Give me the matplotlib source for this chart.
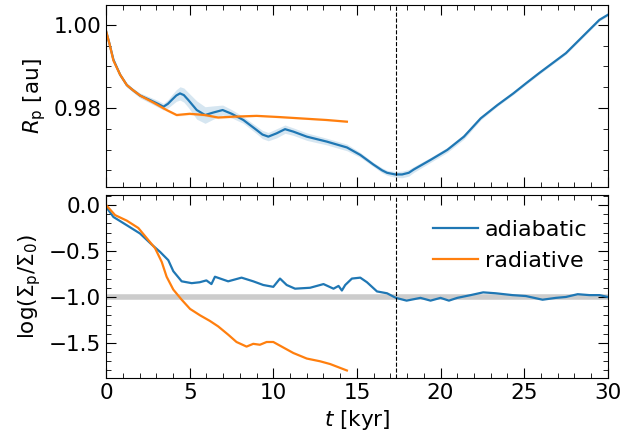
import matplotlib.pyplot as plt
from matplotlib.ticker import MultipleLocator

# planet radius, adiabatic run
t_adi_r = [0.0, 0.2, 0.44, 0.84, 1.24, 1.6, 2.03, 2.63, 3.1, 3.43, 3.7, 3.92, 4.2, 4.42,
           4.65, 4.92, 5.42, 5.92, 6.41, 6.97, 7.51, 8.21, 9.0, 9.35, 9.7, 10.2, 10.7,
           11.2, 12.0, 13.2, 14.4, 15.2, 15.98, 16.5, 16.8, 17.3, 17.7, 18.1, 18.4,
           19.4, 20.4, 21.4, 22.4, 23.4, 24.35, 25.1, 25.9, 26.7, 27.5, 28.3, 29.1,
           29.5, 30.0]
r_adi = [0.9985, 0.9955, 0.9916, 0.988, 0.9855, 0.9843, 0.983, 0.9819, 0.981, 0.9803,
         0.981, 0.9819, 0.983, 0.9835, 0.9831, 0.9819, 0.9795, 0.9783, 0.9789, 0.9795,
         0.9786, 0.9771, 0.9747, 0.9736, 0.9731, 0.9739, 0.9749, 0.9743, 0.9731,
         0.9719, 0.9705, 0.9687, 0.9664, 0.965, 0.9644, 0.964, 0.964, 0.9644, 0.9652,
         0.9675, 0.9699, 0.9731, 0.9775, 0.9807, 0.9835, 0.9859, 0.9884, 0.9908,
         0.9932, 0.9964, 0.9996, 1.0012, 1.0024]
r_adi_spread = [0.0003, 0.0003, 0.0004, 0.0004, 0.0005, 0.0005, 0.0006, 0.0007, 0.0008,
                0.0008, 0.0010, 0.0012, 0.0014, 0.0016, 0.0017, 0.0018, 0.0022, 0.0020,
                0.0016, 0.0012, 0.0010, 0.0008, 0.0009, 0.0010, 0.0010, 0.0011, 0.0010,
                0.0009, 0.0009, 0.0008, 0.0008, 0.0006, 0.0005, 0.0006, 0.0006, 0.0007,
                0.0008, 0.0008, 0.0007, 0.0006, 0.0006, 0.0006, 0.0004, 0.0003, 0.0003,
                0.0003, 0.0003, 0.0003, 0.0003, 0.0003, 0.0003, 0.0003, 0.0003]

# planet radius, radiative run
t_rad_r = [0.0, 0.2, 0.44, 0.84, 1.24, 1.6, 2.03, 2.83, 3.62, 4.22, 5.0, 5.9, 6.7, 7.6,
           9.0, 10.4, 11.6, 13.2, 14.4]
r_rad = [0.9985, 0.9955, 0.9914, 0.988, 0.9855, 0.9843, 0.983, 0.9813, 0.9795, 0.9783,
         0.9786, 0.9783, 0.9777, 0.9779, 0.9781, 0.9778, 0.9775, 0.9771, 0.9767]
r_rad_spread = [0.0002, 0.0002, 0.0003, 0.0004, 0.0004, 0.0004, 0.0004, 0.0004, 0.0003,
                0.0003, 0.0003, 0.0003, 0.0003, 0.0003, 0.0002, 0.0002, 0.0002, 0.0002,
                0.0002]

# gap depth
t_adi_s = [0.0, 0.44, 1.24, 2.03, 2.73, 3.23, 3.72, 4.02, 4.52, 5.12, 5.6, 6.0, 6.3,
           6.51, 7.3, 8.1, 8.8, 9.4, 10.0, 10.4, 10.8, 11.3, 12.2, 13.0, 13.6, 13.9,
           14.1, 14.3, 14.7, 15.2, 15.6, 16.2, 16.8, 17.33, 17.97, 18.8, 19.4, 20.0,
           20.5, 21.0, 21.8, 22.55, 23.3, 24.3, 25.1, 26.1, 26.9, 27.5, 28.2, 28.9,
           29.5, 30.0]
s_adi = [-0.02, -0.13, -0.22, -0.31, -0.43, -0.51, -0.6, -0.72, -0.83, -0.85, -0.84,
         -0.82, -0.86, -0.78, -0.83, -0.79, -0.83, -0.87, -0.89, -0.80, -0.87, -0.91,
         -0.90, -0.86, -0.91, -0.88, -0.93, -0.87, -0.80, -0.79, -0.84, -0.94, -0.96,
         -1.01, -1.04, -1.01, -1.04, -1.01, -1.04, -1.01, -0.98, -0.95, -0.96, -0.98,
         -0.99, -1.03, -1.01, -1.0, -0.97, -0.98, -0.98, -1.0]

t_rad_s = [0.0, 0.54, 1.24, 1.93, 2.43, 2.93, 3.33, 3.62, 4.02, 4.52, 5.02, 5.62, 6.2,
           6.7, 7.3, 7.8, 8.4, 8.8, 9.2, 9.6, 10.0, 10.5, 11.2, 12.0, 12.8, 13.4, 14.4]
s_rad = [0.0, -0.11, -0.17, -0.25, -0.36, -0.47, -0.62, -0.78, -0.92, -1.03, -1.13,
         -1.2, -1.26, -1.32, -1.41, -1.49, -1.54, -1.51, -1.52, -1.49, -1.49, -1.54,
         -1.61, -1.67, -1.70, -1.73, -1.80]

t_mark = 17.33

plt.rcParams['font.size'] = 15.5

fig = plt.figure(figsize=(6.24, 4.44), dpi=100)
ax1 = fig.add_axes([0.170, 0.579, 0.804, 0.410])
ax2 = fig.add_axes([0.170, 0.149, 0.804, 0.412], sharex=ax1)

lo = [r - w for r, w in zip(r_adi, r_adi_spread)]
hi = [r + w for r, w in zip(r_adi, r_adi_spread)]
ax1.fill_between(t_adi_r, lo, hi, color='C0', alpha=0.18, lw=0)
lo = [r - w for r, w in zip(r_rad, r_rad_spread)]
hi = [r + w for r, w in zip(r_rad, r_rad_spread)]
ax1.fill_between(t_rad_r, lo, hi, color='C1', alpha=0.15, lw=0)
ax1.plot(t_adi_r, r_adi, color='C0', lw=1.6)
ax1.plot(t_rad_r, r_rad, color='C1', lw=1.6)
ax1.axvline(t_mark, color='k', ls='--', lw=0.8)
ax1.set_ylim(0.961, 1.0048)
ax1.set_ylabel(r'$R_{\rm p}$ [au]')
ax1.yaxis.set_major_locator(MultipleLocator(0.02))
ax1.yaxis.set_minor_locator(MultipleLocator(0.005))
ax1.tick_params(labelbottom=False)

ax2.axhline(-1.0, color='0.8', lw=4, zorder=1)
ax2.plot(t_adi_s, s_adi, color='C0', lw=1.6, label='adiabatic')
ax2.plot(t_rad_s, s_rad, color='C1', lw=1.6, label='radiative')
ax2.axvline(t_mark, color='k', ls='--', lw=0.8)
ax2.set_ylim(-1.88, 0.11)
ax2.set_xlim(0, 30)
ax2.set_ylabel(r'$\log(\Sigma_{\rm p}/\Sigma_0)$')
ax2.set_xlabel(r'$t$ [kyr]')
ax2.yaxis.set_major_locator(MultipleLocator(0.5))
ax2.yaxis.set_minor_locator(MultipleLocator(0.1))
ax2.legend(loc='upper right', bbox_to_anchor=(0.99, 0.95), frameon=False, fontsize=16,
           handlelength=2.0, handletextpad=0.3, borderaxespad=0.3)

for ax in (ax1, ax2):
    ax.xaxis.set_major_locator(MultipleLocator(5))
    ax.xaxis.set_minor_locator(MultipleLocator(1))
    ax.tick_params(which='both', direction='in', top=True, right=True)
    ax.tick_params(which='major', length=7)
    ax.tick_params(which='minor', length=3.5)

fig.align_ylabels([ax1, ax2])
fig.savefig('out.png', dpi=100)
